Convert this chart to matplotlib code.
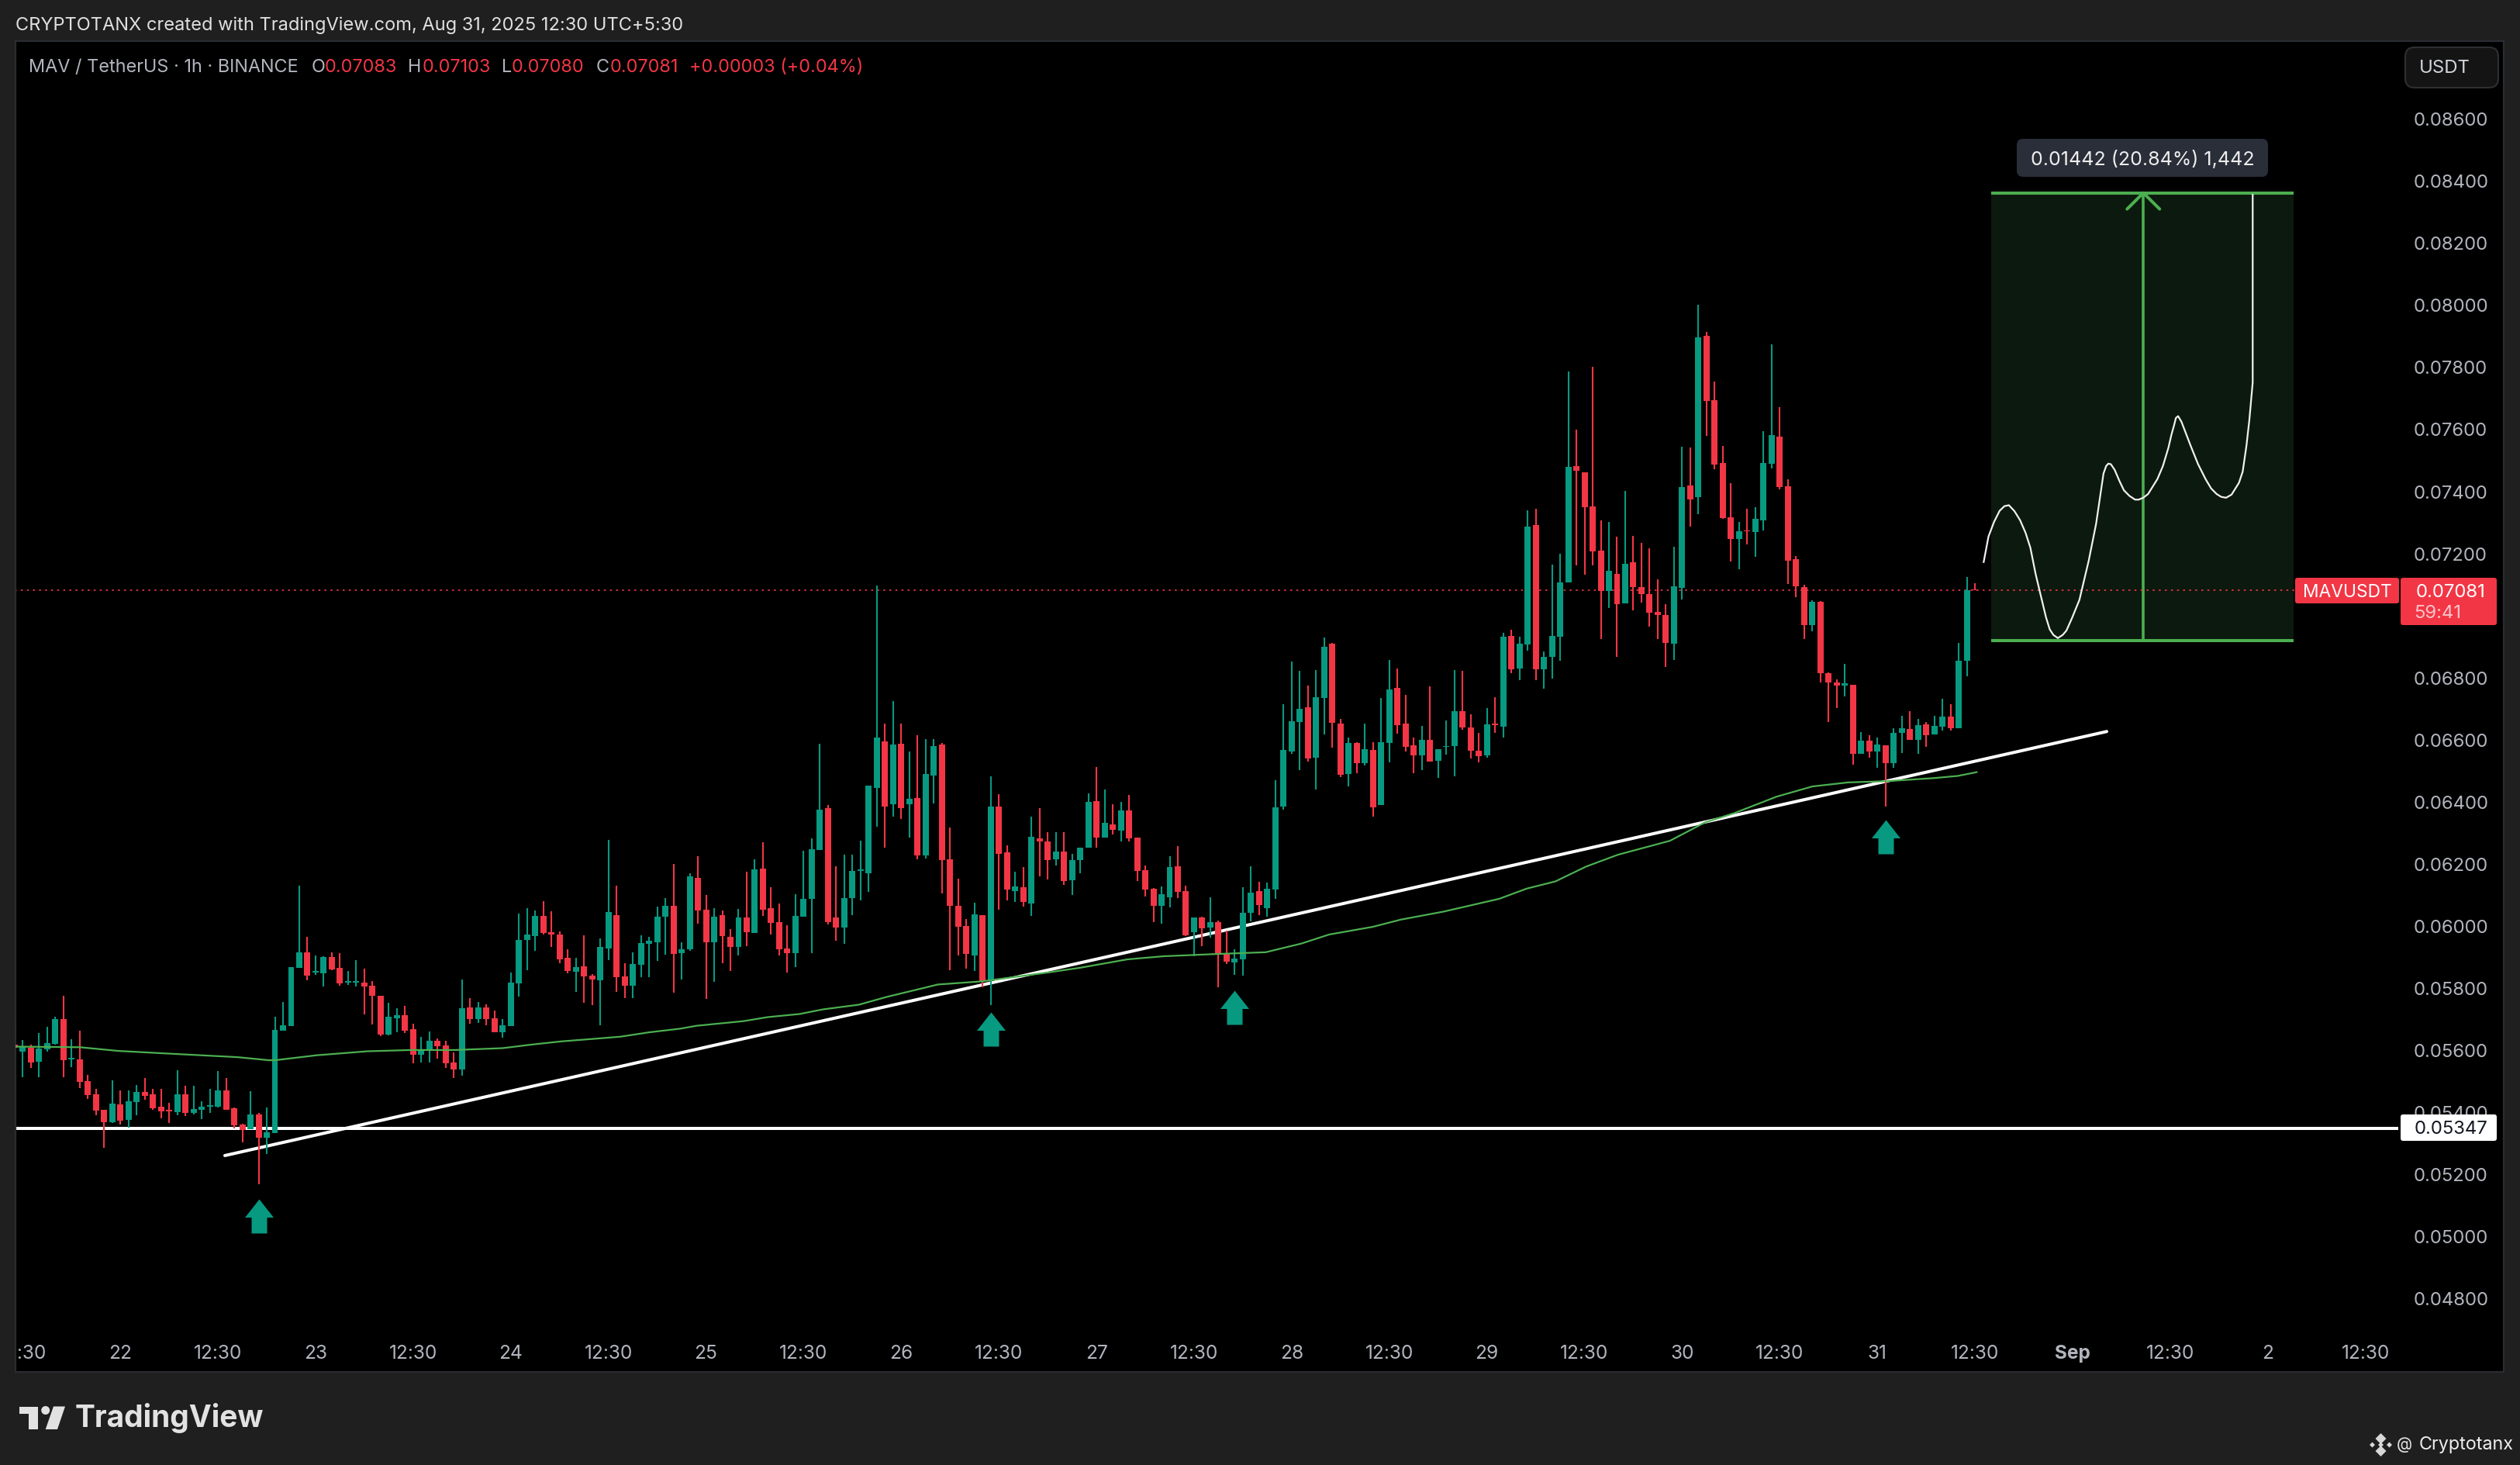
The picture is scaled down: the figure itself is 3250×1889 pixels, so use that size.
import matplotlib
matplotlib.use('Agg')
import numpy as np
import matplotlib.pyplot as plt
from matplotlib.patches import FancyBboxPatch, Rectangle, Polygon, Circle
from matplotlib.path import Path
from matplotlib.transforms import Affine2D

W, H = 3250, 1890
plt.rcParams['font.family'] = ['Inter', 'DejaVu Sans']

# prices are in 0.00001 units (one tick), candle position = hour index
opens = [5616,5595,5607,5561,5601,5620,5699,5570,5569,5499,
 5456,5407,5367,5424,5374,5432,5464,5457,5417,5406,
 5399,5457,5397,5407,5417,5417,5469,5412,5359,5344,
 5392,5317,5332,5661,5676,5864,5914,5849,5846,5899,
 5864,5817,5817,5816,5806,5774,5649,5701,5711,5666,
 5584,5596,5629,5614,5559,5537,5736,5699,5736,5701,
 5656,5676,5814,5954,5966,6031,5979,5971,5896,5851,
 5869,5839,5824,5926,6034,5836,5806,5874,5941,5946,
 6029,6064,5911,5924,6153,6051,5946,6034,5964,5931,
 6026,5976,6183,6056,6011,5926,5911,6029,6086,6243,
 6378,6026,5994,6089,6176,6169,6443,6593,6391,6586,
 6391,6411,6226,6483,6583,6213,6064,5999,5904,6034,
 5826,6383,6236,6111,6123,6071,6281,6271,6213,6238,
 6146,6211,6251,6401,6283,6326,6306,6371,6283,6178,
 6119,6064,6091,6191,6111,5979,6026,5993,6010,5910,
 5881,5891,6042,6111,6056,6117,6383,6560,6656,6703,
 6540,6733,6908,6650,6488,6588,6523,6566,6388,6587,
 6766,6650,6580,6548,6598,6530,6575,6578,6690,6637,
 6563,6548,6650,6640,6933,6828,6905,7290,6825,6866,
 6931,7104,7480,7460,7350,7207,7078,7133,7038,7171,
 7091,7068,7010,7000,6908,7088,7417,7380,7900,7693,
 7490,7315,7246,7273,7268,7306,7487,7574,7415,7181,
 7091,6967,7042,6813,6783,6772,6776,6553,6595,6560,
 6581,6524,6621,6633,6599,6648,6616,6641,6674,6636,
 6852,7083]
closes = [5607,5610,5560,5605,5621,5699,5567,5573,5497,5455,
 5405,5367,5427,5372,5434,5464,5452,5412,5402,5402,
 5457,5397,5409,5417,5422,5469,5407,5357,5342,5392,
 5317,5334,5664,5679,5866,5914,5839,5853,5899,5859,
 5814,5821,5821,5804,5774,5649,5706,5711,5661,5584,
 5599,5629,5611,5556,5537,5734,5699,5736,5699,5656,
 5679,5816,5954,5971,6031,5976,5971,5891,5854,5866,
 5836,5826,5931,6044,5834,5805,5876,5944,5951,6029,
 6064,5909,5924,6159,6049,5946,6029,5966,5931,6026,
 5979,6181,6051,6009,5924,5911,6031,6086,6246,6373,
 6011,5994,6089,6176,6181,6451,6606,6383,6583,6378,
 6408,6226,6488,6578,6211,6064,5996,5909,6036,5821,
 6383,6231,6116,6126,6076,6286,6271,6211,6238,6143,
 6211,6251,6398,6283,6331,6308,6371,6281,6176,6116,
 6064,6101,6188,6109,5969,6026,5992,6010,5910,5883,
 5894,6041,6106,6066,6118,6380,6566,6658,6698,6538,
 6735,6898,6653,6485,6588,6523,6568,6381,6591,6760,
 6645,6575,6548,6598,6528,6568,6579,6690,6637,6563,
 6546,6648,6646,6930,6825,6908,7285,6825,6865,6933,
 7105,7477,7465,7348,7205,7078,7143,7036,7165,7091,
 7068,7008,7000,6911,7093,7413,7373,7894,7689,7486,
 7312,7246,7270,7269,7310,7490,7580,7413,7175,7092,
 6967,7043,6812,6782,6773,6781,6553,6595,6560,6582,
 6524,6621,6636,6599,6646,6614,6642,6674,6636,6853,
 7081,7081]
highs = [5699,5631,5616,5653,5674,5706,5773,5633,5661,5518,
 5474,5407,5502,5469,5469,5487,5509,5474,5474,5429,
 5534,5484,5484,5434,5474,5532,5509,5414,5362,5467,
 5397,5414,5706,5754,5866,6129,5964,5904,5901,5914,
 5911,5854,5889,5861,5821,5774,5751,5734,5741,5684,
 5641,5659,5636,5629,5591,5826,5766,5754,5746,5726,
 5699,5849,6039,6056,6049,6079,6046,5981,5924,5896,
 5969,5844,5959,6276,6128,5878,5913,5968,5963,6061,
 6089,6199,5946,6169,6223,6099,6056,6049,5989,6054,
 6174,6213,6268,6124,6071,6001,6101,6241,6281,6586,
 6388,6191,6228,6228,6273,6451,7095,6651,6723,6651,
 6561,6613,6601,6601,6588,6316,6151,6021,6074,6034,
 6481,6423,6258,6173,6188,6351,6378,6301,6301,6301,
 6231,6251,6426,6511,6438,6391,6398,6421,6283,6193,
 6121,6126,6223,6256,6129,6026,6028,6091,6016,5983,
 5923,6123,6191,6142,6138,6468,6713,6851,6820,6773,
 6822,6929,6910,6665,6605,6590,6650,6591,6733,6855,
 6828,6743,6605,6643,6770,6568,6660,6823,6820,6680,
 6620,6701,6735,6944,6953,6930,7337,7343,6883,7163,
 7198,7785,7598,7460,7800,7306,7300,7252,7400,7256,
 7233,7215,7115,7036,7220,7542,7540,7999,7912,7752,
 7545,7424,7300,7343,7348,7592,7872,7670,7438,7190,
 7098,7047,7045,6815,6793,6844,6776,6623,6614,6605,
 6581,6636,6675,6690,6666,6655,6675,6730,6714,6911,
 7123,7103]
lows = [5595,5512,5542,5512,5595,5616,5512,5545,5477,5442,
 5389,5283,5364,5358,5349,5389,5439,5407,5379,5364,
 5389,5387,5392,5377,5397,5414,5407,5347,5302,5344,
 5167,5264,5332,5661,5676,5864,5824,5841,5804,5856,
 5806,5809,5804,5714,5681,5644,5646,5656,5654,5556,
 5559,5559,5571,5541,5509,5517,5684,5686,5679,5656,
 5639,5676,5771,5856,5919,5971,5931,5879,5846,5786,
 5751,5744,5679,5889,5786,5765,5767,5834,5834,5886,
 5906,5784,5826,5919,6006,5764,5819,5879,5854,5904,
 5934,5976,6031,5971,5904,5849,5866,6029,5911,6243,
 6004,5951,5941,6034,6081,6109,6318,6251,6351,6343,
 6283,6214,6216,6393,6104,5856,5904,5861,5854,5801,
 5744,6051,6081,6076,6061,6031,6159,6149,6193,6131,
 6098,6168,6251,6251,6283,6293,6271,6271,6143,6093,
 6011,6006,6059,6089,5966,5901,5933,5962,5801,5876,
 5841,5838,6013,6033,6028,6086,6373,6554,6501,6527,
 6439,6615,6572,6479,6448,6490,6516,6351,6388,6526,
 6618,6560,6490,6501,6527,6476,6550,6481,6631,6538,
 6526,6540,6620,6605,6813,6790,6886,6790,6763,6796,
 6853,7104,7161,7131,7161,6922,7023,6865,7038,7016,
 7040,6963,6923,6833,6855,7050,7286,7325,7578,7470,
 7309,7173,7147,7228,7188,7272,7473,7406,7101,7059,
 6922,6947,6782,6655,6701,6737,6517,6552,6540,6507,
 6383,6507,6556,6599,6554,6575,6616,6628,6627,6636,
 6802,7080]

# moving average
ma_x = [0.1,8,12.8,20,27.4,31.3,32.3,37.1,43.4,48.8,54.1,60,63.4,67.3,71.2,74.5,78,81.9,83.8,89.6,
 92.6,96.5,99.4,103.8,107.2,111,113.5,118.8,120.3,127.1,131,136.8,141.2,147.5,153.8,158.2,161.6,167,
 170.4,175.7,182.5,185.9,189.4,193.2,197.1,203.5,207.8,211.4,216.6,221,225.4,230.1,236,238.9,241.2]
ma_y = [5610,5608,5596,5586,5576,5566,5567,5582,5595,5599,5599,5605,5616,5627,5635,5642,5656,5668,5677,5692,
 5705,5715,5730,5745,5770,5794,5810,5820,5825,5849,5864,5891,5901,5908,5914,5942,5971,5996,
 6019,6045,6086,6119,6142,6190,6228,6273,6332,6362,6415,6448,6461,6465,6475,6482,6494]

# hand drawn projection path
path_x = [242.07,242.66,243.34,244.03,244.62,245.17,245.85,246.54,247.22,247.81,248.45,249.05,249.73,250.19,250.64,
 251.19,251.78,252.24,252.92,253.84,254.98,255.89,256.8,257.12,257.39,257.71,258.17,258.76,259.31,259.99,260.68,
 261.13,261.68,262.28,263.42,264.1,264.78,265.15,265.47,265.7,265.97,266.38,267.52,268.43,269.35,270.03,270.71,
 271.26,271.86,272.54,273.45,273.91,274.37,274.73,275.14,275.14]
path_y = [7171,7253,7300,7336,7351,7354,7335,7306,7265,7217,7133,7067,6993,6954,6936,
 6926,6936,6950,6990,7049,7175,7294,7456,7480,7488,7486,7468,7432,7402,7384,7372,
 7372,7378,7390,7438,7480,7539,7581,7611,7635,7641,7623,7545,7486,7438,7408,7390,
 7381,7378,7388,7426,7462,7545,7629,7749,8354]

trend_x = [25.85, 257.2]
trend_y = [5259, 6625]
support = 5347
last_price = 7081
box_x = [243, 280.2]
box_y = [6918, 8360]
measure_x = 261.7
arrow_x = [30, 120, 150, 230]
arrow_y = [5119, 5720, 5791, 6342]

# 0.07000 sits behind the live price label in the reference, so it is left out
price_ticks = [v for v in range(4800, 8601, 200) if v != 7000]
time_ticks = list(range(1, 290, 12))
time_labels = ['12:30','22','12:30','23','12:30','24','12:30','25','12:30','26','12:30','27','12:30','28','12:30',
 '29','12:30','30','12:30','31','12:30','Sep','12:30','2','12:30']

GREEN = '#089981'
RED = '#F23645'
LINE_GREEN = '#4CAF50'
GREY = '#B2B5BE'
PAGE = '#1F1F1F'

fig = plt.figure(figsize=(W / 100, H / 100), dpi=100, facecolor=PAGE)
ax = fig.add_axes([20 / W, 1 - 1770 / H, 3209 / W, 1716 / H], facecolor='black')
px = Affine2D().scale(1 / W, -1 / H).translate(0, 1) + fig.transFigure

def p(values):
    return np.array(values) / 1e5

idx = np.arange(len(opens))
o, c, hi, lo = p(opens), p(closes), p(highs), p(lows)
up = c >= o
colors = [GREEN if u else RED for u in up]

ax.set_xlim(0.114, 306.0)
ax.set_ylim(0.04562, 0.08849)

# the long setup box goes under everything
ax.add_patch(Rectangle((box_x[0], box_y[0] / 1e5), box_x[1] - box_x[0], (box_y[1] - box_y[0]) / 1e5,
                       facecolor='#0C190E', edgecolor='none', zorder=1))
ax.hlines(p(box_y), box_x[0], box_x[1], color=LINE_GREEN, lw=2.9, zorder=1.5)
ax.plot([measure_x, measure_x], p(box_y), color=LINE_GREEN, lw=2.6, zorder=1.5)
ax.plot([measure_x - 2, measure_x, measure_x + 2], p([box_y[1] - 52, box_y[1], box_y[1] - 52]),
        color=LINE_GREEN, lw=2.9, solid_capstyle='round', zorder=1.5)

ax.hlines(support / 1e5, 0, (3093 - 18.8) / 10.49, color='white', lw=2.9, zorder=2)
ax.plot(trend_x, p(trend_y), color='white', lw=2.9, solid_capstyle='round', zorder=2)
ax.hlines(last_price / 1e5, 0, box_x[1] + 0.2, color=RED, lw=1.2, linestyles=(0, (1.5, 3.2)), zorder=2.2)

ax.vlines(idx, lo, hi, colors=colors, lw=1.5, zorder=3)
ax.bar(idx, np.abs(c - o), bottom=np.minimum(o, c), width=0.76, color=colors, linewidth=0, zorder=3.1)

ax.plot(ma_x, p(ma_y), color=LINE_GREEN, lw=1.6, zorder=4)
ax.plot(path_x, p(path_y), color='#F0F0F0', lw=1.6, solid_joinstyle='round', zorder=4)

# up arrow marks, tip at the marker origin
arrow_path = Path([(0, 0), (18.5, -23.5), (10, -23.5), (10, -44), (-10, -44), (-10, -23.5), (-18.5, -23.5), (0, 0)],
                  closed=True)
ax.plot(arrow_x, p(arrow_y), ls='none', marker=arrow_path, markersize=88 * 0.72, color=GREEN, mew=0, zorder=4)

ax.yaxis.tick_right()
ax.set_yticks(p(price_ticks))
ax.set_yticklabels(['%.5f' % (v / 1e5) for v in price_ticks])
ax.tick_params(axis='y', length=0, pad=-84, labelsize=17.2, labelcolor=GREY)
ax.set_xticks(time_ticks)
ax.set_xticklabels(time_labels)
ax.tick_params(axis='x', length=0, pad=-26, labelsize=17.6, labelcolor=GREY)
for t in ax.get_xticklabels():
    t.set_clip_on(True)
    t.set_clip_box(ax.bbox)
    if t.get_text() == 'Sep':
        t.set_fontweight('bold')
for s in ax.spines.values():
    s.set_color('#2A2C33')
    s.set_linewidth(1.6)

def rbox(x0, y0, x1, y1, color, edge='none', r=6, z=6):
    b = FancyBboxPatch((x0 + r, y0 + r), x1 - x0 - 2 * r, y1 - y0 - 2 * r, boxstyle='round,pad=%d,rounding_size=%d' % (r, r),
                       facecolor=color, edgecolor=edge, linewidth=1.5, transform=px, zorder=z)
    fig.add_artist(b)

def label(x, y, s, color, size, ha='left', weight='normal', z=7):
    fig.text(x / W, 1 - y / H, s, color=color, fontsize=size, ha=ha, va='center', fontweight=weight, zorder=z)

# price labels on the scale
rbox(3096, 1438, 3220, 1472, 'white', r=3)
label(3161, 1456, '0.05347', '#131722', 17.2, ha='center')
rbox(2960, 746, 3094, 779, RED, r=3)
label(3027, 764, 'MAVUSDT', 'white', 16.4, ha='center')
rbox(3096, 746, 3220, 807, RED, r=3)
label(3161, 764, '0.07081', 'white', 17.2, ha='center')
label(3113, 791, '59:41', '#F9C4C9', 17.2)

rbox(3102, 62, 3222, 114, '#141414', edge='#2E2F33', r=12)
label(3153, 88, 'USDT', '#D1D4DC', 17.2, ha='center')

rbox(2601, 180, 2925, 229, '#2A2E39', r=8)
label(2763, 206, '0.01442 (20.84%) 1,442', '#EDEDED', 18, ha='center')

# header and legend
label(20, 33, 'CRYPTOTANX created with TradingView.com, Aug 31, 2025 12:30 UTC+5:30', '#E0E0E0', 17)
label(37, 87, 'MAV / TetherUS · 1h · BINANCE', GREY, 16.9)
legend_names = ['O', 'H', 'L', 'C']
legend_vals = ['0.07083', '0.07103', '0.07080', '0.07081']
legend_name_x = [402, 526, 647, 769]
legend_val_x = [419, 545, 660, 787]
for n, v, nx, vx in zip(legend_names, legend_vals, legend_name_x, legend_val_x):
    label(nx, 87, n, GREY, 16.9)
    label(vx, 87, v, RED, 16.9)
label(889, 87, '+0.00003 (+0.04%)', RED, 16.9)

# footer logo
LOGO = '#E2E2E2'
fig.add_artist(Polygon([(24.5, 1814.5), (48.5, 1814.5), (48.5, 1844), (36.7, 1844), (36.7, 1824), (24.5, 1824)],
                       closed=True, facecolor=LOGO, edgecolor='none', transform=px, zorder=6))
fig.add_artist(Circle((58.7, 1819.5), 5.5, facecolor=LOGO, edgecolor='none', transform=px, zorder=6))
fig.add_artist(Polygon([(69, 1814.5), (84, 1814.5), (74, 1844), (58.7, 1844)],
                       closed=True, facecolor=LOGO, edgecolor='none', transform=px, zorder=6))
label(97, 1829, 'TradingView', LOGO, 28, weight='bold')

# bottom right handle
for dx, dy, s in [(0, -8, 7), (0, 8, 7), (-11, 0, 3.5), (11, 0, 3.5), (0, 0, 3.5)]:
    fig.add_artist(Polygon([(3070.5 + dx, 1864 + dy - s), (3070.5 + dx + s, 1864 + dy), (3070.5 + dx, 1864 + dy + s),
                            (3070.5 + dx - s, 1864 + dy)], closed=True, facecolor='#D8D8D8', edgecolor='none',
                           transform=px, zorder=6))
label(3091, 1863, '@', '#E0E0E0', 15)
label(3242, 1863, 'Cryptotanx', '#EDEDED', 16.8, ha='right')

fig.savefig('out.png', dpi=100, facecolor=PAGE)
